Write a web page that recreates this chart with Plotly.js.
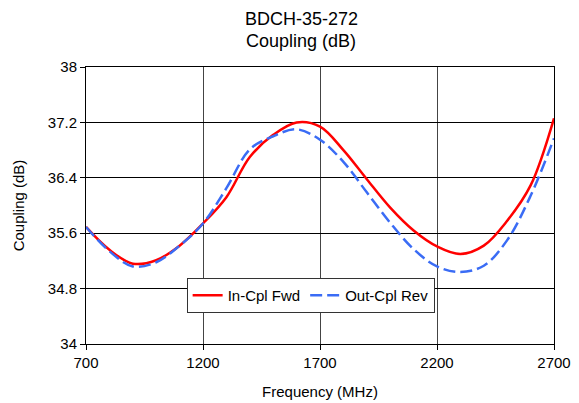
<!DOCTYPE html>
<html>
<head>
<meta charset="utf-8">
<script src="https://cdn.plot.ly/plotly-3.0.1.min.js"></script>
<style>html,body{margin:0;padding:0;background:#fff;}#chart{width:579px;height:403px;}</style>
</head>
<body>
<div id="chart"></div>
<script>
const freq = [700, 800, 900, 1000, 1100, 1200, 1300, 1400, 1500, 1600, 1700, 1800, 1900, 2000, 2100, 2200, 2300, 2400, 2500, 2600, 2700];
const inCplFwd = [35.69, 35.36, 35.16, 35.21, 35.42, 35.74, 36.12, 36.70, 37.02, 37.20, 37.14, 36.80, 36.38, 35.97, 35.64, 35.41, 35.30, 35.42, 35.78, 36.29, 37.26];
const outCplRev = [35.69, 35.34, 35.12, 35.18, 35.42, 35.74, 36.25, 36.81, 37.00, 37.10, 36.95, 36.63, 36.19, 35.75, 35.37, 35.12, 35.04, 35.13, 35.50, 36.14, 36.97];
const yTicks = [34, 34.8, 35.6, 36.4, 37.2, 38];
const xTicks = [700, 1200, 1700, 2200, 2700];
const titleLines = ['BDCH-35-272', 'Coupling (dB)'];

const font = {family: 'Arial, "Liberation Sans", sans-serif', color: '#000'};

const traces = [
  {x: freq, y: inCplFwd, name: 'In-Cpl Fwd', type: 'scatter', mode: 'lines',
   line: {color: '#ff0000', width: 2.5, shape: 'spline', smoothing: 1}},
  {x: freq, y: outCplRev, name: 'Out-Cpl Rev', type: 'scatter', mode: 'lines',
   line: {color: '#3a6cf5', width: 2.5, dash: '12px,5px', shape: 'spline', smoothing: 1}}
];

const layout = {
  width: 579, height: 403,
  margin: {l: 86, r: 25, t: 67, b: 59},
  paper_bgcolor: '#fff', plot_bgcolor: '#fff',
  font: Object.assign({size: 14}, font),
  annotations: [
    {text: titleLines[0], xref: 'paper', yref: 'paper', x: 0.46, y: 1.172, xanchor: 'center', yanchor: 'middle',
     showarrow: false, font: Object.assign({size: 18}, font)},
    {text: titleLines[1], xref: 'paper', yref: 'paper', x: 0.46, y: 1.093, xanchor: 'center', yanchor: 'middle',
     showarrow: false, font: Object.assign({size: 18}, font)}
  ],
  xaxis: {
    range: [700, 2700], tickvals: xTicks, ticktext: xTicks.map(String),
    showgrid: true, gridcolor: '#444', gridwidth: 1,
    showline: true, linecolor: '#000', linewidth: 1, mirror: true,
    ticks: 'outside', ticklen: 5, tickcolor: '#000',
    zeroline: false,
    tickfont: Object.assign({size: 15}, font),
    title: {text: 'Frequency (MHz)', font: Object.assign({size: 15}, font), standoff: 16}
  },
  yaxis: {
    range: [34, 38], tickvals: yTicks, ticktext: yTicks.map(v => String(v)),
    showgrid: true, gridcolor: '#000', gridwidth: 1,
    showline: true, linecolor: '#000', linewidth: 1, mirror: true,
    ticks: 'outside', ticklen: 5, tickcolor: '#000',
    zeroline: false,
    tickfont: Object.assign({size: 15}, font),
    title: {text: 'Coupling (dB)', font: Object.assign({size: 15}, font), standoff: 19}
  },
  showlegend: true,
  legend: {
    orientation: 'h', x: 0.48, xanchor: 'center', y: 0.175, yanchor: 'middle',
    bgcolor: '#fff', bordercolor: '#333', borderwidth: 1,
    font: Object.assign({size: 15}, font), itemwidth: 30
  }
};

Plotly.newPlot('chart', traces, layout, {displayModeBar: false, staticPlot: true});
</script>
</body>
</html>
